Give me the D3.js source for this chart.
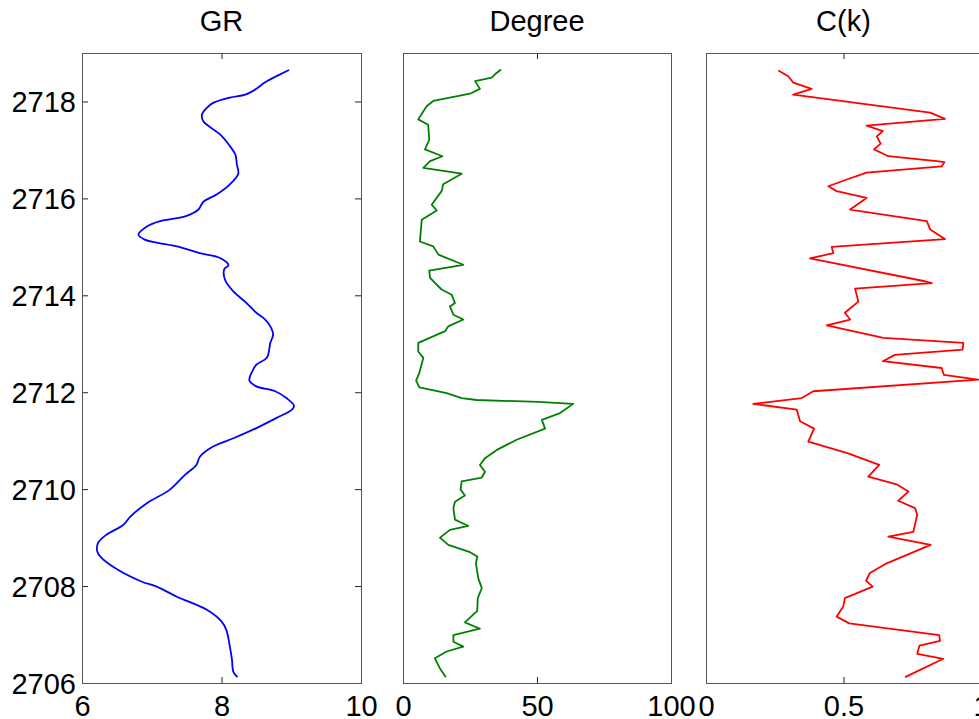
<!DOCTYPE html>
<html>
<head>
<meta charset="utf-8">
<script src="https://cdn.jsdelivr.net/npm/d3@7"></script>
<style>
  html, body { margin: 0; padding: 0; background: #fff; }
  svg { display: block; }
  text { font-family: "Liberation Sans", Arial, Helvetica, sans-serif; }
</style>
</head>
<body>
<svg id="chart" width="979" height="719"></svg>
<script>
// ---------- data ----------
const titles = ["GR", "Degree", "C(k)"];
const depthTicks = [2706, 2708, 2710, 2712, 2714, 2716, 2718];
const grTicks = [6, 8, 10];
const degTicks = [0, 50, 100];
const ckTicks = [0, 0.5, 1];

const grDepth = [2718.65,2718.56,2718.39,2718.26,2718.14,2718.08,2717.97,2717.87,2717.73,2717.59,2717.32,2717.08,2716.90,2716.70,2716.51,2716.29,2716.08,2715.93,2715.77,2715.64,2715.53,2715.42,2715.25,2715.15,2715.09,2715.01,2714.87,2714.77,2714.62,2714.54,2714.32,2714.08,2713.84,2713.64,2713.51,2713.36,2713.19,2713.02,2712.71,2712.57,2712.40,2712.24,2712.12,2712.02,2711.88,2711.72,2711.64,2711.47,2711.26,2711.05,2710.88,2710.67,2710.50,2710.30,2709.99,2709.71,2709.43,2709.26,2709.06,2708.89,2708.71,2708.58,2708.33,2708.09,2707.99,2707.78,2707.51,2707.27,2707.09,2706.75,2706.48,2706.23,2706.12];
const grValue = [8.97,8.84,8.62,8.50,8.34,8.12,7.88,7.79,7.72,7.74,7.98,8.12,8.20,8.22,8.24,8.12,7.93,7.74,7.67,7.50,7.12,6.93,6.81,6.90,7.05,7.36,7.69,7.98,8.10,8.04,8.05,8.17,8.36,8.50,8.62,8.70,8.74,8.70,8.65,8.50,8.43,8.40,8.50,8.77,8.93,9.04,9.01,8.79,8.50,8.17,7.88,7.69,7.64,7.48,7.26,6.93,6.69,6.59,6.35,6.23,6.22,6.28,6.52,6.86,7.07,7.36,7.79,8.00,8.07,8.12,8.15,8.17,8.23];

const degDepth = [2718.66,2718.56,2718.49,2718.42,2718.26,2718.16,2718.01,2717.90,2717.63,2717.52,2717.21,2717.01,2716.87,2716.77,2716.63,2716.51,2716.29,2716.15,2715.87,2715.75,2715.56,2715.11,2715.01,2714.84,2714.63,2714.51,2714.36,2714.12,2714.01,2713.84,2713.77,2713.60,2713.50,2713.36,2713.26,2713.02,2712.84,2712.71,2712.40,2712.24,2712.10,2711.98,2711.88,2711.84,2711.80,2711.76,2711.57,2711.43,2711.25,2711.02,2710.81,2710.64,2710.50,2710.36,2710.24,2710.16,2709.99,2709.87,2709.74,2709.61,2709.37,2709.24,2709.16,2709.00,2708.85,2708.70,2708.61,2708.47,2708.16,2707.96,2707.75,2707.49,2707.25,2707.12,2706.99,2706.85,2706.75,2706.65,2706.51,2706.30,2706.12];
const degValue = [36.6,34.3,33.1,26.9,28.7,25.0,11.3,8.8,5.7,9.4,9.8,8.2,14.7,10.1,7.6,21.9,15.0,14.4,10.7,12.6,7.0,6.3,11.3,13.2,22.5,9.8,10.1,14.4,18.2,19.4,17.5,18.8,22.5,16.9,15.7,5.7,5.7,7.6,6.1,4.9,6.1,16.3,21.9,27.5,50.5,63.5,58.6,51.8,53.0,42.4,35.0,30.6,28.7,30.6,29.4,21.9,21.5,23.1,19.4,18.8,19.4,24.4,17.5,13.8,16.9,25.0,27.7,27.2,28.1,29.4,27.9,27.7,23.1,28.7,18.8,18.8,22.5,16.3,11.9,13.8,16.0];

const ckDepth = [2718.64,2718.52,2718.39,2718.26,2718.14,2717.77,2717.64,2717.50,2717.39,2717.28,2717.13,2717.01,2716.87,2716.77,2716.75,2716.66,2716.53,2716.39,2716.25,2716.15,2716.01,2715.77,2715.53,2715.36,2715.16,2715.00,2714.87,2714.76,2714.29,2714.25,2714.14,2713.87,2713.64,2713.50,2713.38,2713.12,2713.02,2712.88,2712.77,2712.64,2712.50,2712.36,2712.26,2712.02,2711.88,2711.76,2711.64,2711.40,2711.25,2710.98,2710.74,2710.50,2710.26,2710.10,2709.95,2709.76,2709.61,2709.47,2709.12,2709.02,2708.85,2708.47,2708.27,2708.11,2707.99,2707.75,2707.58,2707.37,2707.23,2706.99,2706.87,2706.77,2706.60,2706.50,2706.12];
const ckValue = [0.263,0.299,0.317,0.384,0.317,0.815,0.869,0.584,0.643,0.621,0.635,0.611,0.663,0.839,0.867,0.857,0.584,0.512,0.445,0.475,0.584,0.524,0.803,0.815,0.869,0.457,0.463,0.378,0.796,0.821,0.542,0.554,0.505,0.524,0.439,0.645,0.936,0.933,0.687,0.643,0.857,0.865,0.990,0.390,0.348,0.172,0.330,0.342,0.393,0.372,0.517,0.630,0.590,0.693,0.736,0.699,0.760,0.768,0.754,0.663,0.817,0.657,0.596,0.582,0.606,0.505,0.499,0.475,0.521,0.848,0.851,0.776,0.768,0.863,0.724];

// ---------- layout ----------
const plotTop = 53, plotBottom = 683;
const panels = [
  { title: titles[0], x0: 82,  x1: 361, domain: [6, 10],  ticks: grTicks,  depth: grDepth,  value: grValue,  color: "#0000ff", yAxis: true,  curve: d3.curveCatmullRom },
  { title: titles[1], x0: 403, x1: 671, domain: [0, 100], ticks: degTicks, depth: degDepth, value: degValue, color: "#008000", yAxis: false, curve: d3.curveLinear },
  { title: titles[2], x0: 706, x1: 981, domain: [0, 1],   ticks: ckTicks,  depth: ckDepth,  value: ckValue,  color: "#ff0000", yAxis: false, curve: d3.curveLinear }
];
const FS = 29;
const svg = d3.select("#chart");
svg.append("rect").attr("width", 979).attr("height", 719).attr("fill", "#fff");

const y = d3.scaleLinear().domain([2706, 2719]).range([plotBottom, plotTop]);

panels.forEach(p => {
  const x = d3.scaleLinear().domain(p.domain).range([p.x0, p.x1]);
  const g = svg.append("g");

  // data line
  const pts = p.depth.map((d, i) => [p.value[i], d]);
  g.append("path")
    .datum(pts)
    .attr("fill", "none")
    .attr("stroke", p.color)
    .attr("stroke-width", 1.8)
    .attr("stroke-linejoin", "round")
    .attr("d", d3.line().curve(p.curve).x(d => x(d[0])).y(d => y(d[1])));

  // bottom axis
  const bx = g.append("g").attr("transform", `translate(0,${plotBottom})`)
    .call(d3.axisBottom(x).tickValues(p.ticks).tickSizeInner(-6).tickSizeOuter(0).tickPadding(12.5)
      .tickFormat(d3.format("")));
  // top axis (ticks only)
  const tx = g.append("g").attr("transform", `translate(0,${plotTop})`)
    .call(d3.axisTop(x).tickValues(p.ticks).tickSizeInner(-6).tickSizeOuter(0).tickFormat(""));
  [bx, tx].forEach(a => {
    a.select(".domain").remove();
    a.selectAll("line").attr("stroke", "#222");
    a.selectAll("text").attr("font-size", FS).attr("fill", "#000");
  });

  if (p.yAxis) {
    const ly = g.append("g").attr("transform", `translate(${p.x0},0)`)
      .call(d3.axisLeft(y).tickValues(depthTicks).tickSizeInner(-6).tickSizeOuter(0).tickPadding(6)
        .tickFormat(d3.format("d")));
    const ry = g.append("g").attr("transform", `translate(${p.x1},0)`)
      .call(d3.axisRight(y).tickValues(depthTicks).tickSizeInner(-6).tickSizeOuter(0).tickFormat(""));
    [ly, ry].forEach(a => {
      a.select(".domain").remove();
      a.selectAll("line").attr("stroke", "#222");
      a.selectAll("text").attr("font-size", FS).attr("fill", "#000").attr("dy", "0.36em");
    });
  }

  // box
  g.append("rect")
    .attr("x", p.x0 + 0.5).attr("y", plotTop + 0.5)
    .attr("width", p.x1 - p.x0).attr("height", plotBottom - plotTop)
    .attr("fill", "none").attr("stroke", "#555").attr("stroke-width", 1);

  // title
  g.append("text")
    .attr("x", (p.x0 + p.x1) / 2).attr("y", 31)
    .attr("text-anchor", "middle")
    .attr("font-size", FS).attr("fill", "#000")
    .text(p.title);
});
</script>
</body>
</html>
